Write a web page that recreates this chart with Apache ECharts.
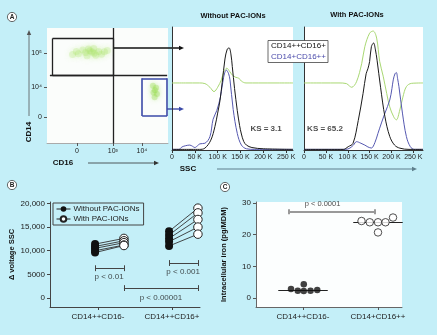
<!DOCTYPE html>
<html>
<head>
<meta charset="utf-8">
<script src="https://cdn.jsdelivr.net/npm/echarts@6/dist/echarts.min.js"></script>
<style>
html,body{margin:0;padding:0;background:#c4eff8;}
#chart{width:437px;height:335px;}
</style>
</head>
<body>
<div id="chart"></div>
<script>
var myChart = echarts.init(document.getElementById('chart'));
var font = 'Liberation Sans, Arial, sans-serif';

// ---- A: CD16 / CD14 gating plot (biexponential display units) ----
var cd16TickPos = [0, 1.24, 2.24];
var cd16TickText = ['0', '10³', '10⁴'];
var cd14TickPos = [0, 0.88, 1.88];
var cd14TickText = ['0', '10⁴', '10⁵'];
var cloudClassical = [[0.52, 1.91], [0.30, 1.90], [0.75, 1.93], [0.05, 1.86], [0.95, 1.92],
    [0.40, 2.00], [0.65, 1.82], [-0.15, 1.84], [0.45, 1.95], [0.60, 1.88], [0.20, 1.97],
    [0.85, 1.85], [1.05, 1.96], [0.35, 1.80], [-0.02, 1.93], [0.58, 2.02]];
var cloudNonClassical = [[2.69, 0.79], [2.62, 0.92], [2.76, 0.68], [2.68, 0.58], [2.73, 0.86], [2.64, 0.72]];
var gateClassical = [-0.84, 1.25, 1.235, 2.31];   // x0, x1, y0, y1
var gateNonClassical = [2.25, 3.11, 0.03, 1.14];
var gateCD16 = 1.25;
var gateCD14 = 1.235;

// ---- A: SSC histograms (SSC in K, % of max) ----
var sscTicks = [0, 50, 100, 150, 200, 250];
var h1Green = [[0,54.5],[30,54.5],[60,54.5],[72,54],[83,51],[92,47.5],[100,51],[108,57],[114,64],[120,66.5],[126,64],[132,61],[140,59],[146,58.5],[152,56],[162,54.5],[190,54.5],[230,54.5],[265,54.5]];
var h1Black = [[0,0.5],[60,0.5],[72,1.5],[85,8],[94,19],[100,30],[105,40],[110,55],[116,74],[121,82],[125,83],[129,78],[132,68],[137,50],[143,32],[148,20],[152,13],[157,7],[163,4],[175,2],[200,1],[265,0.5]];
var h1Blue = [[0,0.5],[15,0.5],[22,2.5],[30,3.5],[39,4],[45,3],[50,2],[56,3.5],[61,5],[72,5.5],[83,10.8],[90,25],[98,32],[106,43],[113,59],[119,65],[124,62],[127,57],[134,33],[143,13.5],[152,4],[163,1],[180,0.5],[265,0.5]];
var h2Green = [[0,54.5],[40,54.5],[80,54.5],[97,54],[104,52],[109,51],[120,55.5],[132,70.5],[139,84],[150,95],[158,96.7],[166,91],[173,72],[181,60],[189,46],[196,35],[205,27],[211,24.5],[219,32.5],[226,43],[234,51.5],[246,54.2],[272,54.5]];
var h2Black = [[0,0.5],[90,0.5],[101,2.7],[112,5.4],[124,24],[135,46],[142,62],[146,66],[150,72],[154,84],[159,87],[163,82],[167,73],[175,51],[185,27],[196,11],[207,4],[219,1.5],[240,0.5],[272,0.5]];
var h2Blue = [[0,0.5],[95,0.5],[105,1.6],[113,4],[120,6.8],[130,5.5],[139,4],[146,2.5],[154,1.6],[162,6],[169,13.5],[177,22],[185,30],[196,40.6],[201,50],[204,57],[208,62],[211,63],[214,58],[217,51.5],[225,30],[234,11],[243,2.7],[252,0.5],[272,0.5]];
var ksValues = ['KS = 3.1', 'KS = 65.2'];

// ---- B: delta voltage SSC ----
var bCats = ['CD14++CD16-', 'CD14++CD16+'];
var bWithout = [[11400, 10900, 10500, 10000, 9600], [14100, 13300, 12600, 11900, 11000]];
var bWith = [[12600, 12100, 11700, 11200, 11100], [19000, 18000, 16600, 15000, 13500]];
var bYTicks = [0, 5000, 10000, 15000, 20000];
var bYText = ['0', '5000', '10,000', '15,000', '20,000'];
var bBrackets = [
    {p: 'p < 0.01', x: [0.96, 1.35], y: 6300, tx: 1.15, ty: 4400},
    {p: 'p < 0.001', x: [1.96, 2.35], y: 7400, tx: 2.15, ty: 5450},
    {p: 'p < 0.00001', x: [1.35, 2.35], y: 2100, tx: 1.85, ty: 0}
];

// ---- C: intracellular iron ----
var cCats = ['CD14++CD16-', 'CD14+CD16++'];
var cIronClassical = [2.8, 2.3, 4.3, 2.2, 2.3, 2.5];
var cIronNonClassical = [24.3, 23.9, 23.9, 20.7, 23.9, 25.4];
var cJitterClassical = [-0.16, -0.07, 0.01, 0.01, 0.10, 0.19];
var cJitterNonClassical = [-0.22, -0.11, 0, 0, 0.10, 0.20];
var cMedian = [2.5, 23.9];
var cBracket = {p: 'p < 0.0001', x: [0.81, 1.95], y: 27.2, tx: 1.26};

function rectSegs(g) {
    return [
        {coords: [[g[0], g[2]], [g[1], g[2]]]},
        {coords: [[g[1], g[2]], [g[1], g[3]]]},
        {coords: [[g[1], g[3]], [g[0], g[3]]]},
        {coords: [[g[0], g[3]], [g[0], g[2]]]}
    ];
}
function bracketSegs(x0, x1, y, cap) {
    return [
        {coords: [[x0, y], [x1, y]]},
        {coords: [[x0, y - cap], [x0, y + cap]]},
        {coords: [[x1, y - cap], [x1, y + cap]]}
    ];
}
function pick(pos, text) {
    return function (v) {
        var i = pos.indexOf(v);
        return i < 0 ? '' : text[i];
    };
}
function arrow(x1, y1, x2, y2, color, w) {
    var dx = x2 - x1, dy = y2 - y1, len = Math.sqrt(dx * dx + dy * dy);
    var ux = dx / len, uy = dy / len, hl = 5, hw = 2.2;
    var bx = x2 - ux * hl, by = y2 - uy * hl;
    return [
        {type: 'line', shape: {x1: x1, y1: y1, x2: bx, y2: by}, style: {stroke: color, lineWidth: w}},
        {type: 'polygon', shape: {points: [[x2, y2], [bx - uy * hw, by + ux * hw], [bx + uy * hw, by - ux * hw]]},
            style: {fill: color}}
    ];
}
function txt(x, y, s, f, color, rot) {
    return {type: 'text', x: x, y: y, rotation: rot || 0,
        style: {text: s, font: f, fill: color || '#111', textAlign: 'center', textVerticalAlign: 'middle'}};
}
function badge(x, y, letter) {
    return [
        {type: 'circle', shape: {cx: x, cy: y, r: 4.6}, style: {fill: '#fff', stroke: '#444', lineWidth: 0.8}},
        txt(x, y + 0.3, letter, 'bold 6.5px ' + font, '#222')
    ];
}

var gateLines = rectSegs(gateClassical).concat([
    {coords: [[-0.93, gateCD14], [3.11, gateCD14]]},
    {coords: [[gateCD16, -0.77], [gateCD16, 2.62]]}
]);

var pairLines = [];
var withoutPts = [], withPts = [];
var offWithout = -0.04, offWith = 0.35;
bCats.forEach(function (c, ci) {
    bWithout[ci].forEach(function (v, k) {
        var a = [ci + 1 + offWithout, v], b = [ci + 1 + offWith, bWith[ci][k]];
        withoutPts.push(a);
        withPts.push(b);
        pairLines.push({coords: [a, b]});
    });
});
var bBracketLines = [];
bBrackets.forEach(function (b) {
    bBracketLines = bBracketLines.concat(bracketSegs(b.x[0], b.x[1], b.y, 620));
});

var cPts1 = cIronClassical.map(function (v, i) { return [1 + cJitterClassical[i], v]; });
var cPts2 = cIronNonClassical.map(function (v, i) { return [2 + cJitterNonClassical[i], v]; });
var cMedLines = cMedian.map(function (m, i) { return {coords: [[i + 1 - 0.33, m], [i + 1 + 0.33, m]]}; });

var axisTxt = {fontFamily: font, color: '#222'};

function histX(grid, max) {
    return {gridIndex: grid, type: 'value', min: 0, max: max,
        axisLine: {onZero: false, lineStyle: {color: '#333', width: 1}},
        axisTick: {customValues: sscTicks, length: 3, lineStyle: {color: '#333'}},
        axisLabel: Object.assign({customValues: sscTicks, fontSize: 7, margin: 4,
            formatter: function (v) { return v === 0 ? '0' : v + ' K'; }}, axisTxt),
        splitLine: {show: false}};
}
function histY(grid) {
    return {gridIndex: grid, type: 'value', min: 0, max: 100,
        axisLine: {show: true, onZero: false, lineStyle: {color: '#333', width: 1}},
        axisTick: {show: false}, axisLabel: {show: false}, splitLine: {show: false}};
}
function histLine(grid, data, color, name) {
    return {type: 'line', name: name, xAxisIndex: grid, yAxisIndex: grid, data: data, smooth: 0.35,
        showSymbol: false, silent: true, lineStyle: {color: color, width: 1}, itemStyle: {color: color}};
}
function labelSeries(grid, data, size, weight) {
    return {type: 'scatter', xAxisIndex: grid, yAxisIndex: grid, symbolSize: 0, silent: true,
        data: data, label: {show: true, position: 'inside', formatter: '{b}',
            fontFamily: font, fontSize: size, fontWeight: weight, color: '#1a1a1a'}};
}

option = {
    animation: false,
    backgroundColor: '#c4eff8',
    grid: [
        {left: 47, top: 28, width: 121, height: 115, show: true, backgroundColor: '#fbfdfb', borderWidth: 0},
        {left: 172, top: 27, width: 121, height: 123, show: true, backgroundColor: '#fff', borderWidth: 0},
        {left: 304, top: 27, width: 119, height: 123, show: true, backgroundColor: '#fff', borderWidth: 0},
        {left: 50, top: 202, width: 150, height: 105},
        {left: 256, top: 202, width: 146, height: 105, show: true, backgroundColor: '#fcfefe', borderWidth: 0}
    ],
    xAxis: [
        {gridIndex: 0, type: 'value', min: -1.03, max: 3.14,
            axisLine: {onZero: false, lineStyle: {color: '#aaa'}},
            axisTick: {customValues: cd16TickPos, length: 3, lineStyle: {color: '#555'}},
            axisLabel: Object.assign({customValues: cd16TickPos, fontSize: 7, margin: 5,
                formatter: pick(cd16TickPos, cd16TickText)}, axisTxt),
            splitLine: {show: false}},
        histX(1, 265),
        histX(2, 272),
        {gridIndex: 3, type: 'value', min: 0.351, max: 2.378,
            axisLine: {onZero: false, lineStyle: {color: '#444'}},
            axisTick: {customValues: [1, 2], length: 3, lineStyle: {color: '#444'}},
            axisLabel: Object.assign({customValues: [1, 2], fontSize: 8, margin: 6,
                formatter: function (v) { return bCats[v - 1]; }}, axisTxt),
            splitLine: {show: false}},
        {gridIndex: 4, type: 'value', min: 0.373, max: 2.32,
            axisLine: {onZero: false, lineStyle: {color: '#666'}},
            axisTick: {customValues: [1, 2], length: 3, lineStyle: {color: '#555'}},
            axisLabel: Object.assign({customValues: [1, 2], fontSize: 8, margin: 6,
                formatter: function (v) { return cCats[v - 1]; }}, axisTxt),
            splitLine: {show: false}}
    ],
    yAxis: [
        {gridIndex: 0, type: 'value', min: -0.765, max: 2.62,
            axisLine: {show: false, onZero: false},
            axisTick: {show: true, customValues: cd14TickPos, length: 3, lineStyle: {color: '#555'}},
            axisLabel: Object.assign({customValues: cd14TickPos, fontSize: 7, margin: 5,
                formatter: pick(cd14TickPos, cd14TickText)}, axisTxt),
            splitLine: {show: false}},
        histY(1),
        histY(2),
        {gridIndex: 3, type: 'value', min: -1900, max: 20300,
            name: 'Δ voltage SSC', nameLocation: 'middle', nameGap: 34,
            nameTextStyle: {fontFamily: font, fontSize: 7.5, fontWeight: 'bold', color: '#111'},
            axisLine: {show: true, onZero: false, lineStyle: {color: '#444'}},
            axisTick: {show: true, customValues: bYTicks, length: 3, lineStyle: {color: '#444'}},
            axisLabel: Object.assign({customValues: bYTicks, fontSize: 8, margin: 5,
                formatter: pick(bYTicks, bYText)}, axisTxt),
            splitLine: {show: false}},
        {gridIndex: 4, type: 'value', min: -2.85, max: 30.3,
            name: 'Intracellular iron (pg/MDM)', nameLocation: 'middle', nameGap: 28,
            nameTextStyle: {fontFamily: font, fontSize: 7.5, fontWeight: 'bold', color: '#111'},
            axisLine: {show: true, onZero: false, lineStyle: {color: '#666'}},
            axisTick: {show: true, customValues: [0, 10, 20, 30], length: 3, lineStyle: {color: '#555'}},
            axisLabel: Object.assign({customValues: [0, 10, 20, 30], fontSize: 8, margin: 5}, axisTxt),
            splitLine: {show: false}}
    ],
    legend: [{
        data: ['Without PAC-IONs', 'With PAC-IONs'],
        left: 53, top: 203, orient: 'vertical',
        padding: [2, 4, 2, 3], itemGap: 2, itemWidth: 14, itemHeight: 7,
        borderColor: '#444', borderWidth: 1, backgroundColor: 'rgba(0,0,0,0)',
        lineStyle: {color: '#222', width: 1, opacity: 1},
        textStyle: {fontFamily: font, fontSize: 8, color: '#222', padding: [0, 0, 0, -2]}
    }],
    series: [
        {type: 'scatter', xAxisIndex: 0, yAxisIndex: 0, data: cloudClassical, symbolSize: 7, silent: true,
            itemStyle: {color: 'rgba(165,228,95,0.28)', shadowBlur: 6, shadowColor: 'rgba(150,220,70,0.7)'}},
        {type: 'scatter', xAxisIndex: 0, yAxisIndex: 0, data: cloudNonClassical, symbolSize: 6, silent: true,
            itemStyle: {color: 'rgba(150,222,75,0.4)', shadowBlur: 5, shadowColor: 'rgba(140,215,60,0.8)'}},
        {type: 'lines', coordinateSystem: 'cartesian2d', xAxisIndex: 0, yAxisIndex: 0, silent: true,
            data: gateLines, lineStyle: {color: '#222', width: 1.3, opacity: 1}},
        {type: 'lines', coordinateSystem: 'cartesian2d', xAxisIndex: 0, yAxisIndex: 0, silent: true,
            data: rectSegs(gateNonClassical), lineStyle: {color: '#3b4aa8', width: 1.6, opacity: 1}},

        histLine(1, h1Green, '#a9d873', 'diff1'),
        histLine(1, h1Blue, '#5558b0', 'CD14+CD16++'),
        histLine(1, h1Black, '#1a1a1a', 'CD14++CD16+'),
        histLine(2, h2Green, '#a9d873', 'diff2'),
        histLine(2, h2Blue, '#5558b0', 'CD14+CD16++'),
        histLine(2, h2Black, '#1a1a1a', 'CD14++CD16+'),
        labelSeries(1, [{name: ksValues[0], value: [206, 17]}], 8, 'bold'),
        labelSeries(2, [{name: ksValues[1], value: [48, 17.6]}], 8, 'bold'),

        {type: 'lines', coordinateSystem: 'cartesian2d', xAxisIndex: 3, yAxisIndex: 3, silent: true,
            data: pairLines, lineStyle: {color: '#333', width: 0.9, opacity: 1}},
        {type: 'lines', coordinateSystem: 'cartesian2d', xAxisIndex: 3, yAxisIndex: 3, silent: true,
            data: bBracketLines, lineStyle: {color: '#444', width: 1, opacity: 1}},
        {type: 'line', name: 'Without PAC-IONs', xAxisIndex: 3, yAxisIndex: 3, data: withoutPts,
            symbol: 'circle', symbolSize: 8, lineStyle: {opacity: 0}, itemStyle: {color: '#111'}, z: 5},
        {type: 'line', name: 'With PAC-IONs', xAxisIndex: 3, yAxisIndex: 3, data: withPts,
            symbol: 'circle', symbolSize: 8.5, lineStyle: {opacity: 0},
            itemStyle: {color: '#fff', borderColor: '#222', borderWidth: 1}, z: 5},
        labelSeries(3, bBrackets.map(function (b) { return {name: b.p, value: [b.tx, b.ty]}; }), 8, 'normal'),

        {type: 'lines', coordinateSystem: 'cartesian2d', xAxisIndex: 4, yAxisIndex: 4, silent: true,
            data: cMedLines, lineStyle: {color: '#222', width: 1, opacity: 1}},
        {type: 'lines', coordinateSystem: 'cartesian2d', xAxisIndex: 4, yAxisIndex: 4, silent: true,
            data: bracketSegs(cBracket.x[0], cBracket.x[1], cBracket.y, 0.8), lineStyle: {color: '#999', width: 2, opacity: 1}},
        {type: 'scatter', xAxisIndex: 4, yAxisIndex: 4, data: cPts1, symbolSize: 6.5, silent: true,
            itemStyle: {color: '#111'}, z: 5},
        {type: 'scatter', xAxisIndex: 4, yAxisIndex: 4, data: cPts2, symbolSize: 7.5, silent: true,
            itemStyle: {color: '#fff', borderColor: '#222', borderWidth: 1}, z: 5},
        {type: 'scatter', xAxisIndex: 4, yAxisIndex: 4, symbolSize: 0, silent: true,
            data: [{name: cBracket.p, value: [cBracket.tx, cBracket.y]}],
            label: {show: true, position: 'top', distance: 4, formatter: '{b}', fontFamily: font, fontSize: 7.5, color: '#222'}}
    ],
    graphic: [].concat(
        badge(12, 17, 'A'), badge(12, 185, 'B'), badge(225, 187, 'C'),
        [txt(233, 16, 'Without PAC-IONs', 'bold 7.5px ' + font),
         txt(357, 15, 'With PAC-IONs', 'bold 7.5px ' + font),
         txt(29, 132, 'CD14', 'bold 8px ' + font, '#111', Math.PI / 2),
         txt(63, 163, 'CD16', 'bold 8px ' + font),
         txt(188, 169, 'SSC', 'bold 8px ' + font)],
        arrow(29, 116, 29, 30, '#555', 0.8),
        arrow(88, 163, 159, 163, '#333', 0.8),
        arrow(217, 169, 417, 169, '#5e7f8c', 1.2),
        arrow(113, 48, 184, 48, '#111', 1.3),
        arrow(167, 109, 184, 109, '#3b4aa8', 1.4),
        [{type: 'rect', shape: {x: 268, y: 40.5, width: 60, height: 22},
            style: {fill: '#fff', stroke: '#444', lineWidth: 0.8}, z: 50},
         {type: 'text', x: 271, y: 46, z: 51, style: {text: 'CD14++CD16+', font: '8px ' + font, fill: '#111', textVerticalAlign: 'middle'}},
         {type: 'text', x: 271, y: 56.5, z: 51, style: {text: 'CD14+CD16++', font: '8px ' + font, fill: '#4a4aaa', textVerticalAlign: 'middle'}}]
    )
};
myChart.setOption(option);
</script>
</body>
</html>
